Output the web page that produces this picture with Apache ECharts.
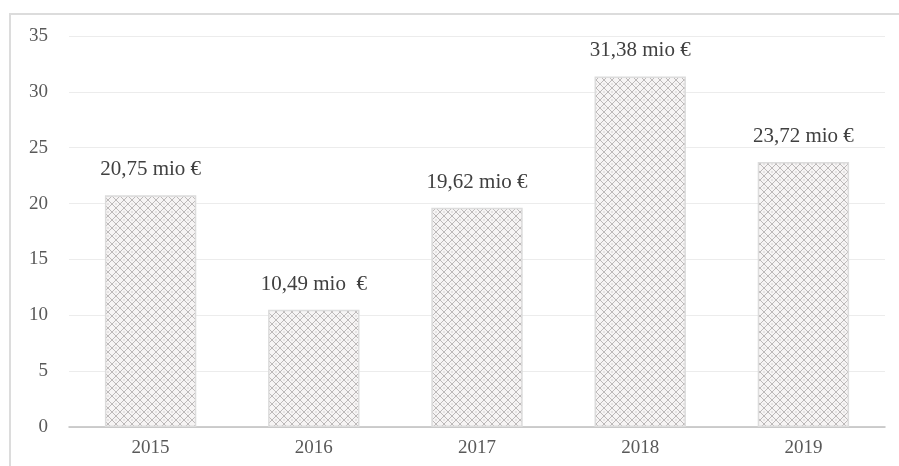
<!DOCTYPE html>
<html><head><meta charset="utf-8">
<script src="https://cdn.jsdelivr.net/npm/echarts@6/dist/echarts.min.js"></script>
<style>html,body{margin:0;padding:0;background:#fff}#c{width:899px;height:466px}</style>
</head><body><div id="c"></div>
<script>
const categories = ['2015','2016','2017','2018','2019'];
const values = [20.75, 10.49, 19.62, 31.38, 23.72];
const barLabels = ['20,75 mio €','10,49 mio  €','19,62 mio €','31,38 mio €','23,72 mio €'];
const yTicks = [0,5,10,15,20,25,30,35];

function makePattern(){
  const c = document.createElement('canvas');
  c.width = 8; c.height = 8;
  const g = c.getContext('2d');
  g.fillStyle = '#f6f4f4'; g.fillRect(0,0,8,8);
  g.strokeStyle = '#a39f9f'; g.lineWidth = 0.7;
  g.beginPath();
  g.moveTo(0,4); g.lineTo(4,0); g.lineTo(8,4); g.lineTo(4,8); g.closePath();
  g.stroke();
  g.fillStyle = '#b3afaf';
  g.fillRect(3.5,3.5,1,1);
  return c;
}

const chart = echarts.init(document.getElementById('c'), null, {renderer:'canvas'});
const font = '"Liberation Serif", "DejaVu Serif", serif';
chart.setOption({
  animation:false,
  grid:{left:69, right:14, top:36, bottom:39, containLabel:false},
  graphic:[{type:'rect', shape:{x:10, y:14, width:920, height:470}, style:{fill:'none', stroke:'#dcdcdc', lineWidth:2}, silent:true}],
  xAxis:{type:'category', data:categories,
    axisLine:{lineStyle:{color:'#bfbfbf', width:1.5}},
    axisTick:{show:false},
    axisLabel:{color:'#595959', fontFamily:font, fontSize:19, margin:12}},
  yAxis:{type:'value', min:yTicks[0], max:yTicks[yTicks.length-1], interval:5,
    axisLine:{show:false}, axisTick:{show:false},
    splitLine:{lineStyle:{color:'#ececec', width:1}},
    axisLabel:{color:'#595959', fontFamily:font, fontSize:19, margin:21}},
  series:[{type:'bar', data:values, barCategoryGap:'44%',
    itemStyle:{color:{image:makePattern(), repeat:'repeat'}, borderColor:'#dcdcdc', borderWidth:1.5},
    label:{show:true, position:'top', distance:15, color:'#404040', fontFamily:font, fontSize:21,
      formatter:p=>barLabels[p.dataIndex]}}]
});
</script></body></html>
